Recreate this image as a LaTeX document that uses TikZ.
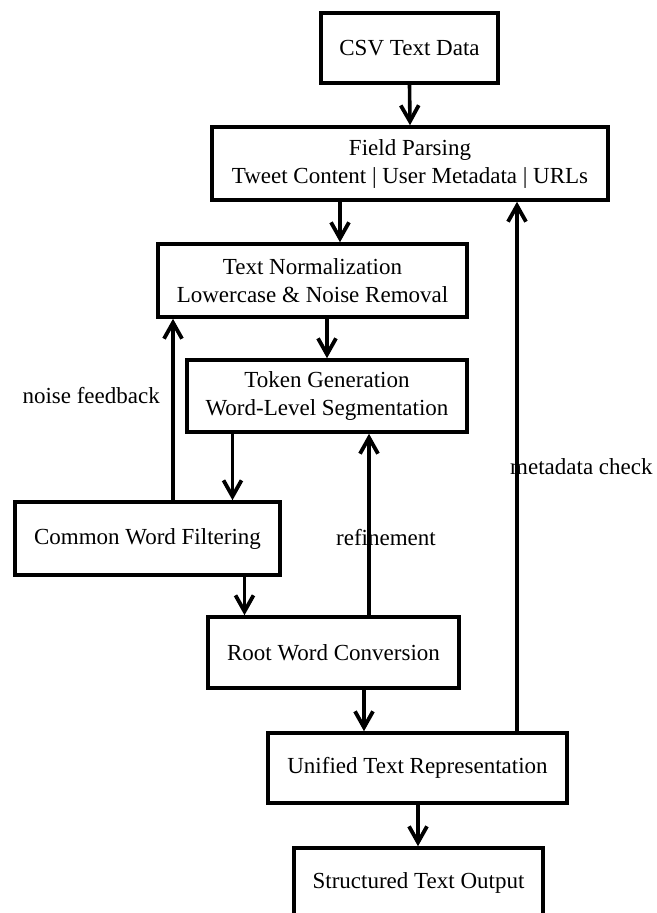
\documentclass[tikz,border=0pt]{standalone}
\usepackage{fontspec}
\setmainfont{Liberation Serif}
\usetikzlibrary{arrows.meta}
\begin{document}
\begin{tikzpicture}[x=1pt,y=-1pt,
  box/.style={draw=black,line width=3.6pt,fill=white,align=center,inner sep=0pt,
    font=\fontsize{23}{28}\selectfont},
  arr/.style={line width=3.6pt,-{Straight Barb[length=16pt,width=18pt,line width=3.8pt]}},
  lbl/.style={inner sep=0pt,font=\fontsize{23}{28}\selectfont}]
\useasboundingbox (0,0) rectangle (656,913);
\node[box,minimum width=177pt,minimum height=70pt] (csv) at (409.5,48) {CSV Text Data};
\node[box,minimum width=396pt,minimum height=73pt] (fp) at (410,163.5) {Field Parsing\\Tweet Content | User Metadata | URLs};
\node[box,minimum width=309pt,minimum height=73pt] (tn) at (312.5,280.5) {Text Normalization\\Lowercase \& Noise Removal};
\node[box,minimum width=280pt,minimum height=72pt] (tg) at (327,396) {Token Generation\\Word-Level Segmentation};
\node[box,minimum width=265pt,minimum height=73pt] (cwf) at (147.5,538.5) {Common Word Filtering};
\node[box,minimum width=251pt,minimum height=71pt] (rwc) at (333.5,652.5) {Root Word Conversion};
\node[box,minimum width=299pt,minimum height=70pt] (utr) at (417.5,768) {Unified Text Representation};
\node[box,minimum width=249pt,minimum height=70pt] (sto) at (418.5,883) {Structured Text Output};
% x positions of connectors
\coordinate (xa) at (340,0);
\coordinate (xb) at (327,0);
\coordinate (xc) at (232.5,0);
\coordinate (xd) at (244.5,0);
\coordinate (xe) at (364,0);
\coordinate (xf) at (418,0);
\coordinate (xn) at (173,0);
\coordinate (xr) at (369,0);
\coordinate (xm) at (517,0);
\draw[arr] (csv.south) -- (fp.north);
\draw[arr] (fp.south -| xa) -- (tn.north -| xa);
\draw[arr] (tn.south -| xb) -- (tg.north -| xb);
\draw[arr] (tg.south -| xc) -- (cwf.north -| xc);
\draw[arr] (cwf.south -| xd) -- (rwc.north -| xd);
\draw[arr] (rwc.south -| xe) -- (utr.north -| xe);
\draw[arr] (utr.south -| xf) -- (sto.north -| xf);
\draw[arr] (cwf.north -| xn) -- (tn.south -| xn);
\draw[arr] (rwc.north -| xr) -- (tg.south -| xr);
\draw[arr] (utr.north -| xm) -- (fp.south -| xm);
\node[lbl,anchor=east] (lnf) at (160,396) {noise feedback};
\node[lbl] (lrf) at (386,538) {refinement};
\node[lbl,anchor=west] (lmc) at (510,467) {metadata check};
\end{tikzpicture}
\end{document}
